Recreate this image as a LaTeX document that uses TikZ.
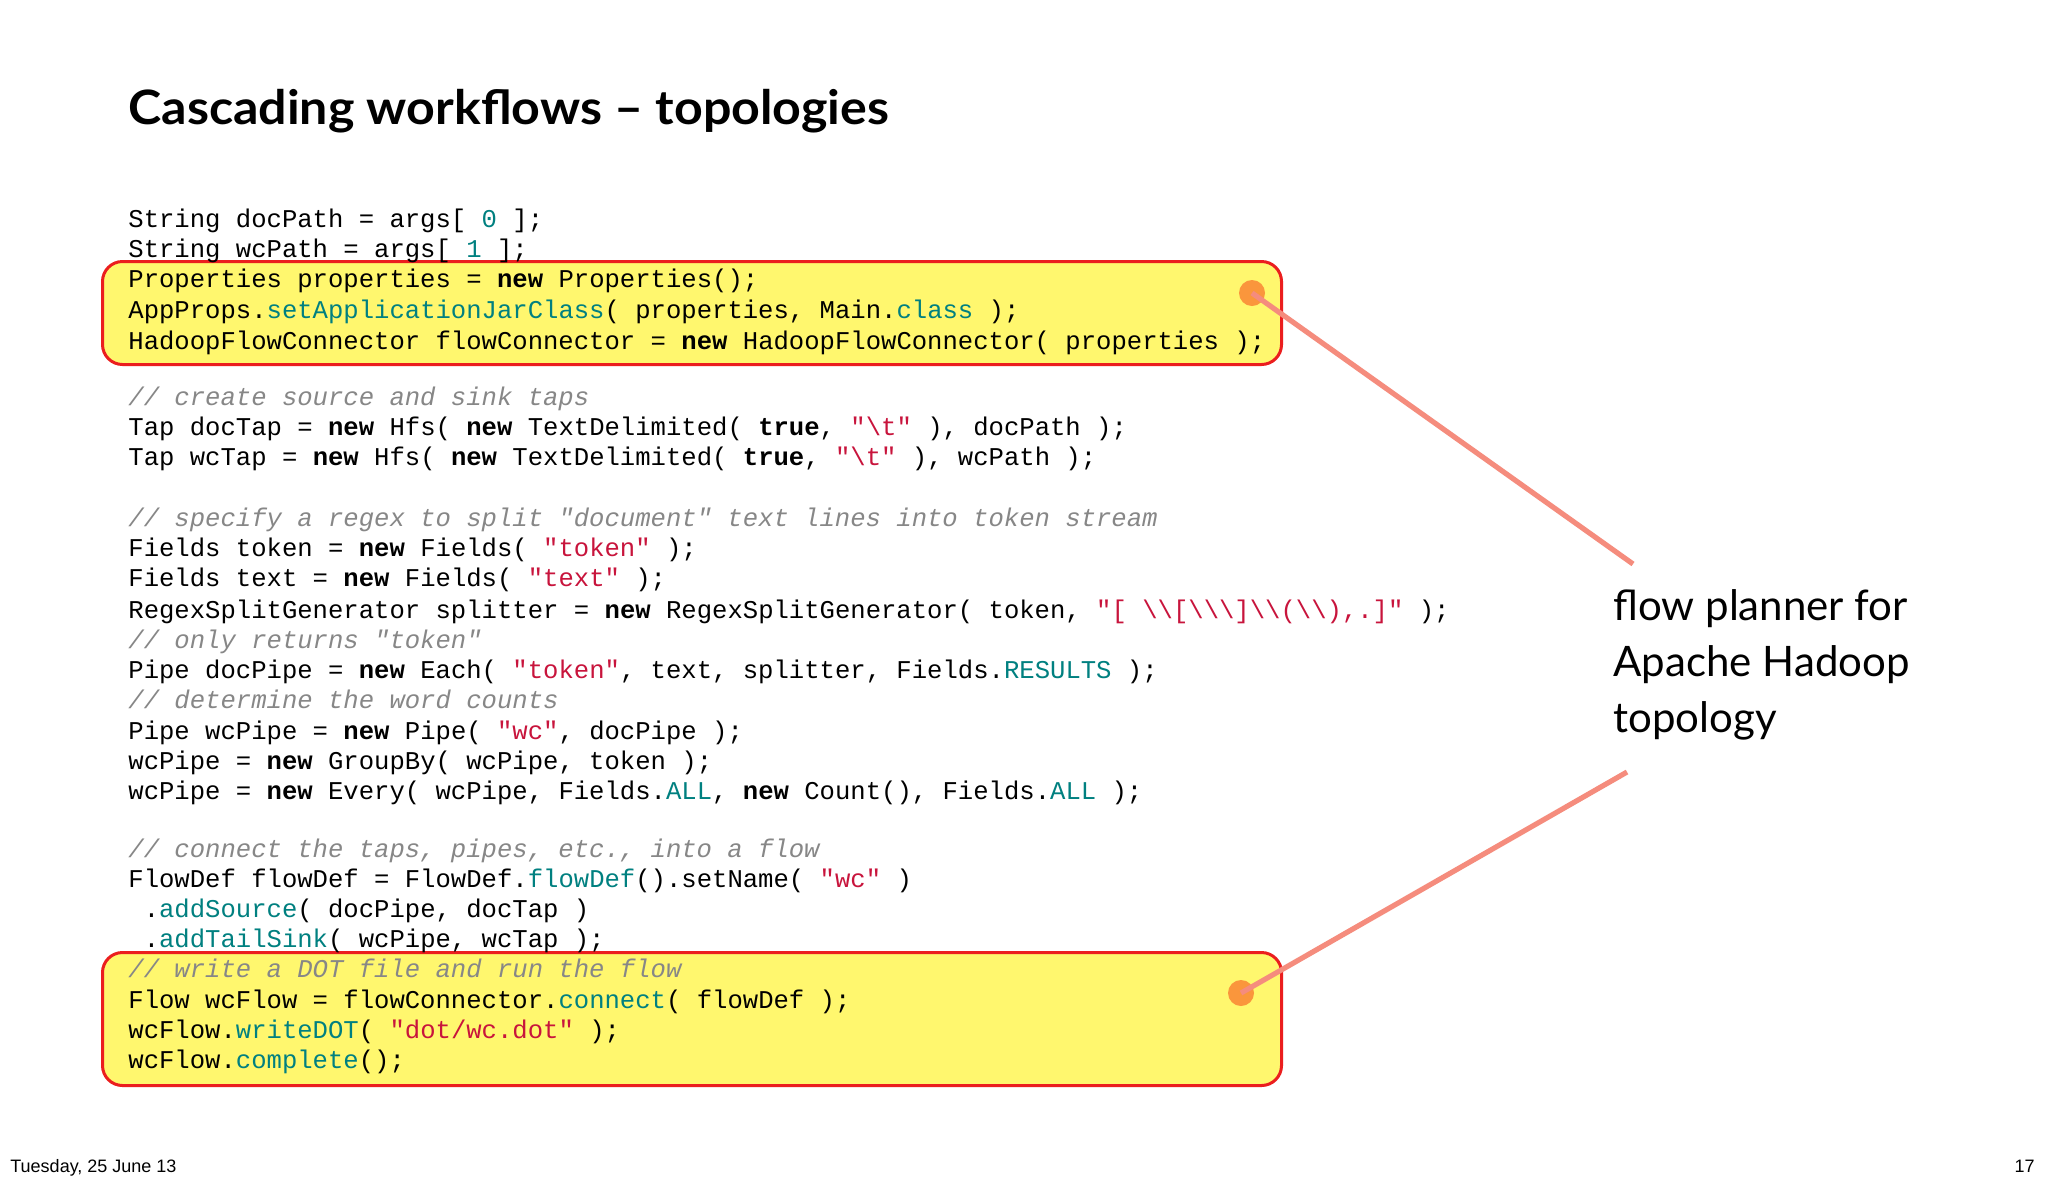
\documentclass[tikz,border=0pt]{standalone}
\usepackage{fontspec}
\setmainfont{Lato}
\setmonofont{Liberation Mono}
\newfontfamily\footfont{Liberation Sans}
\definecolor{kwteal}{RGB}{0,128,128}
\definecolor{strred}{RGB}{200,20,60}
\definecolor{cmgrey}{RGB}{135,135,135}
\definecolor{hlyellow}{RGB}{255,247,110}
\definecolor{hlred}{RGB}{235,30,30}
\definecolor{dotorange}{RGB}{250,150,60}
\definecolor{linesalmon}{RGB}{245,140,125}
\newcommand{\kw}[1]{\textbf{#1}}
\newcommand{\fn}[1]{\textcolor{kwteal}{#1}}
\newcommand{\st}[1]{\textcolor{strred}{#1}}
\newcommand{\cm}[1]{\textcolor{cmgrey}{\itshape #1}}
\newcommand{\bs}{\char`\\}
\begin{document}
\begin{tikzpicture}[x=0.5pt,y=-0.5pt,
  codeline/.style={anchor=base west,inner sep=0pt,font=\ttfamily\fontsize{12.8}{15}\selectfont},
  hlbox/.style={draw=hlred,line width=1.5pt,fill=hlyellow,rounded corners=10pt},
  pin/.style={circle,fill=dotorange,minimum size=13pt,inner sep=0pt},
  lead/.style={draw=linesalmon,line width=2.6pt}]
\useasboundingbox (0,0) rectangle (2048,1184);
\fill[white] (0,0) rectangle (2048,1184);
\node[hlbox,minimum width=589.5pt,minimum height=51.5pt,anchor=north west] (boxA) at (101,260) {};
\node[hlbox,minimum width=589.5pt,minimum height=66.5pt,anchor=north west] (boxB) at (101,951) {};
\node[anchor=base west,inner sep=0pt,font=\bfseries\fontsize{23}{26}\selectfont] (title) at (128,124) {\scalebox{1.09}[1.03]{Cascading workflows -- topologies}};
\foreach \y/\t [count=\i] in {
227/{String docPath = args[ \fn{0} ];},
257/{String wcPath = args[ \fn{1} ];},
287/{Properties properties = \kw{new} Properties();},
318/{AppProps.\fn{setApplicationJarClass}( properties, Main.\fn{class} );},
349/{HadoopFlowConnector flowConnector = \kw{new} HadoopFlowConnector( properties );},
405/{\cm{// create source and sink taps}},
435/{Tap docTap = \kw{new} Hfs( \kw{new} TextDelimited( \kw{true}, \st{"\bs t"} ), docPath );},
465/{Tap wcTap = \kw{new} Hfs( \kw{new} TextDelimited( \kw{true}, \st{"\bs t"} ), wcPath );},
526/{\cm{// specify a regex to split "document" text lines into token stream}},
556/{Fields token = \kw{new} Fields( \st{"token"} );},
586/{Fields text = \kw{new} Fields( \st{"text"} );},
618/{RegexSplitGenerator splitter = \kw{new} RegexSplitGenerator( token, \st{"[ \bs\bs[\bs\bs\bs]\bs\bs(\bs\bs),.]"} );},
648/{\cm{// only returns "token"}},
678/{Pipe docPipe = \kw{new} Each( \st{"token"}, text, splitter, Fields.\fn{RESULTS} );},
708/{\cm{// determine the word counts}},
739/{Pipe wcPipe = \kw{new} Pipe( \st{"wc"}, docPipe );},
769/{wcPipe = \kw{new} GroupBy( wcPipe, token );},
799/{wcPipe = \kw{new} Every( wcPipe, Fields.\fn{ALL}, \kw{new} Count(), Fields.\fn{ALL} );},
857/{\cm{// connect the taps, pipes, etc., into a flow}},
887/{FlowDef flowDef = FlowDef.\fn{flowDef}().setName( \st{"wc"} )},
917/{~.\fn{addSource}( docPipe, docTap )},
947/{~.\fn{addTailSink}( wcPipe, wcTap );},
977/{\cm{// write a DOT file and run the flow}},
1008/{Flow wcFlow = flowConnector.\fn{connect}( flowDef );},
1038/{wcFlow.\fn{writeDOT}( \st{"dot/wc.dot"} );},
1068/{wcFlow.\fn{complete}();}}
  \node[codeline] (code\i) at (128,\y) {\t};
\node[pin] (dotA) at (1252,293) {};
\node[pin] (dotB) at (1241,993) {};
\coordinate (leadA) at (1633,564);
\coordinate (leadB) at (1627,772);
\draw[lead] (dotA.center) -- (leadA);
\draw[lead] (dotB.center) -- (leadB);
\node[anchor=west,align=left,inner sep=0pt,font=\fontsize{21}{28}\selectfont] (note) at (1613,665) {flow planner for\\Apache Hadoop\\topology};
\node[anchor=base west,inner sep=0pt,font=\footfont\fontsize{9}{10}\selectfont] (date) at (10,1172) {Tuesday, 25 June 13};
\node[anchor=base east,inner sep=0pt,font=\footfont\fontsize{9}{10}\selectfont] (page) at (2035,1172) {17};
\end{tikzpicture}
\end{document}
